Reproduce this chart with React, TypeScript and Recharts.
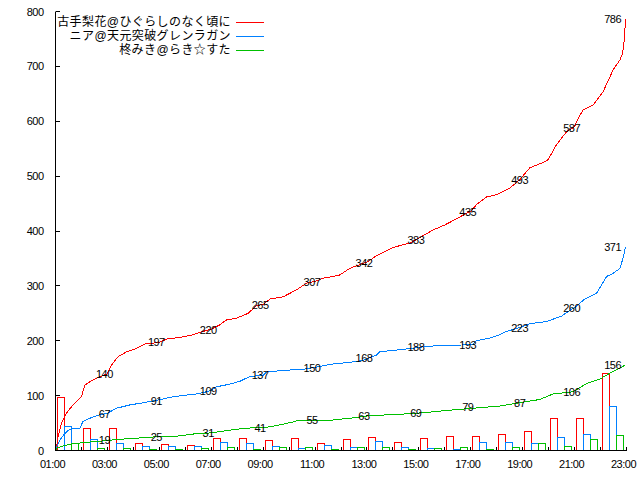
import React from "react";
import { ComposedChart, Bar, Line, Scatter, XAxis, YAxis, Legend } from "recharts";

const NUM_FONT = '"Liberation Sans", sans-serif';
const JP_FONT = '"Liberation Sans", "Noto Sans CJK JP", sans-serif';

const seriesNames = ["古手梨花@ひぐらしのなく頃に", "ニア@天元突破グレンラガン", "柊みき@らき☆すた"];
const seriesColors = ["#ff0000", "#0080ff", "#00c000"];

// hourly bins (centre of each hour 01:00-23:00)
const binCenters = [1.5, 2.5, 3.5, 4.5, 5.5, 6.5, 7.5, 8.5, 9.5, 10.5, 11.5, 12.5, 13.5, 14.5, 15.5, 16.5, 17.5, 18.5, 19.5, 20.5, 21.5, 22.5];
const redCounts = [97, 40, 41, 13, 11, 10, 21, 22, 18, 22, 12, 20, 24, 15, 22, 26, 26, 30, 34, 58, 58, 141];
const blueCounts = [44, 20, 13, 8, 8, 8, 15, 12, 8, 3, 10, 5, 16, 5, 3, 2, 14, 14, 12, 23, 30, 81];
const greenCounts = [13, 3, 3, 1, 1, 4, 6, 1, 6, 6, 2, 5, 5, 2, 3, 5, 2, 5, 12, 8, 20, 27];

// cumulative lines
const redTimes = [1.0, 1.04, 1.1, 1.23, 1.42, 1.62, 1.81, 2.0, 2.13, 2.32, 2.58, 2.9, 3.0, 3.16, 3.41, 3.74, 4.12, 4.44, 5.0, 5.28, 5.79, 6.3, 6.82, 7.0, 7.33, 7.59, 7.97, 8.42, 8.75, 9.0, 9.26, 9.77, 10.29, 10.67, 11.0, 11.31, 11.57, 11.96, 12.34, 12.85, 13.0, 13.37, 14.0, 14.65, 15.04, 15.55, 16.0, 16.32, 16.71, 17.0, 17.22, 17.61, 17.99, 18.5, 18.88, 19.27, 19.79, 19.98, 20.3, 20.69, 21.0, 21.07, 21.33, 21.72, 22.1, 22.49, 22.75, 22.85, 22.9, 22.94, 22.96];
const redTotals = [0, 7, 25, 50, 68, 80, 89, 98, 119, 125, 132, 138, 140, 156, 171, 180, 186, 194, 197, 203, 206, 211, 219, 221, 229, 238, 241, 250, 264, 266, 276, 280, 293, 305, 308, 314, 316, 320, 332, 341, 343, 355, 370, 378, 388, 402, 411, 419, 429, 436, 448, 462, 466, 478, 493, 515, 525, 530, 557, 581, 590, 599, 621, 630, 654, 694, 712, 724, 742, 767, 786];
const blueTimes = [1.0, 1.04, 1.17, 1.36, 1.55, 1.94, 2.06, 2.39, 2.71, 3.0, 3.35, 3.86, 4.38, 4.95, 5.53, 6.05, 6.43, 6.82, 7.0, 7.2, 7.72, 8.1, 8.49, 9.0, 9.13, 9.77, 10.54, 11.06, 11.57, 11.96, 12.21, 12.85, 13.0, 13.37, 13.5, 14.14, 14.91, 15.0, 15.68, 16.58, 17.09, 17.22, 17.74, 18.12, 18.38, 18.89, 19.27, 19.92, 20.5, 20.8, 21.0, 21.39, 21.85, 22.23, 22.49, 22.75, 22.88, 22.96];
const blueTotals = [0, 7, 19, 31, 39, 41, 53, 60, 65, 68, 77, 83, 87, 92, 98, 101, 103, 107, 110, 116, 121, 126, 135, 137, 143, 146, 148, 152, 157, 159, 160, 164, 167, 174, 180, 183, 187, 188, 191, 192, 194, 200, 205, 211, 217, 224, 231, 235, 245, 255, 260, 276, 287, 317, 323, 332, 353, 371];
const greenTimes = [1.0, 1.04, 1.29, 1.68, 2.06, 2.45, 2.96, 3.35, 3.99, 4.89, 5.66, 6.3, 6.95, 7.72, 8.23, 8.49, 9.26, 9.77, 10.16, 10.29, 11.06, 11.57, 11.96, 12.6, 13.0, 13.76, 14.65, 15.42, 16.07, 17.09, 18.12, 18.89, 19.66, 20.17, 20.94, 21.46, 21.97, 22.36, 22.75, 22.96];
const greenTotals = [0, 4, 8, 13, 14, 16, 18, 20, 22, 25, 26, 30, 32, 37, 40, 41, 43, 48, 52, 54, 54, 55, 57, 60, 63, 65, 67, 70, 73, 77, 81, 87, 93, 103, 107, 122, 130, 141, 150, 156];

// value labels every two hours
const labelTimes = [3, 5, 7, 9, 11, 13, 15, 17, 19, 21, 22.58];
const redLabels = [140, 197, 220, 265, 307, 342, 383, 435, 493, 587, 786];
const blueLabels = [67, 91, 109, 137, 150, 168, 188, 193, 223, 260, 371];
const greenLabels = [19, 25, 31, 41, 55, 63, 69, 79, 87, 106, 156];

const hourTicks = [1, 2, 3, 4, 5, 6, 7, 8, 9, 10, 11, 12, 13, 14, 15, 16, 17, 18, 19, 20, 21, 22, 23];
const majorHours = [1, 3, 5, 7, 9, 11, 13, 15, 17, 19, 21, 23];
const yTicks = [0, 100, 200, 300, 400, 500, 600, 700, 800];

const barData = binCenters.map((t, i) => ({ t, red: redCounts[i], blue: blueCounts[i], green: greenCounts[i] }));
const toPoints = (ts: number[], vs: number[]) => ts.map((t, i) => ({ t, v: vs[i] }));

const fmtHour = (h: number) => `${String(h).padStart(2, "0")}:00`;

const numText = { fontSize: 11, fontFamily: NUM_FONT, letterSpacing: -0.5, fill: "#000" };

const BottomTick = (props: any) => {
  const { x, y, payload } = props;
  const h = payload.value;
  return (
    <g>
      <line x1={x} y1={y} x2={x} y2={y - 4} stroke="#000" shapeRendering="crispEdges" />
      {h % 2 === 1 && (
        <text x={x - 3} y={y + 17} textAnchor="middle" {...numText}>
          {fmtHour(h)}
        </text>
      )}
    </g>
  );
};

const TopTick = (props: any) => {
  const { x, y } = props;
  return <line x1={x} y1={y} x2={x} y2={y + 4} stroke="#000" shapeRendering="crispEdges" />;
};

const LeftTick = (props: any) => {
  const { x, y, payload } = props;
  return (
    <g>
      <line x1={x} y1={y} x2={x + 4} y2={y} stroke="#000" shapeRendering="crispEdges" />
      <text x={x - 12} y={y + 4} textAnchor="end" {...numText}>
        {payload.value}
      </text>
    </g>
  );
};

const RightTick = (props: any) => {
  const { x, y } = props;
  return <line x1={x} y1={y} x2={x - 4} y2={y} stroke="#000" shapeRendering="crispEdges" />;
};

const ValueText = (props: any) => {
  const { cx, cy, payload } = props;
  return (
    <text x={cx - 3} y={cy + 4} textAnchor="middle" {...numText}>
      {payload.v}
    </text>
  );
};

const renderLegend = () => (
  <div style={{ fontFamily: JP_FONT, fontSize: 12, color: "#000" }}>
    {seriesNames.map((name, i) => (
      <div key={name} style={{ display: "flex", justifyContent: "flex-end", alignItems: "center", height: 14, lineHeight: "14px" }}>
        <span style={{ letterSpacing: 0.4, whiteSpace: "nowrap" }}>{name}</span>
        <span style={{ display: "inline-block", width: 28, height: 0, borderTop: `1px solid ${seriesColors[i]}`, marginLeft: 5 }} />
      </div>
    ))}
  </div>
);

export default function App() {
  return (
    <div style={{ position: "absolute", left: 0, top: 0, background: "#fff" }}>
      <ComposedChart width={640} height={480} data={barData} barGap={0} margin={{ top: 11.5, right: 13.5, bottom: 0, left: 0 }}>
        <XAxis xAxisId="bar" dataKey="t" type="number" domain={[1, 23]} ticks={hourTicks} interval={0} height={29.5}
          tickSize={0} tickMargin={0} tickLine={false} tick={BottomTick} axisLine={{ stroke: "#000" }} />
        <XAxis xAxisId="top" orientation="top" type="number" domain={[1, 23]} ticks={majorHours} interval={0} height={0}
          tickSize={0} tickMargin={0} tickLine={false} tick={TopTick} axisLine={{ stroke: "#000" }} />
        <XAxis xAxisId="line" dataKey="t" type="number" domain={[1, 23]} hide allowDataOverflow />
        <YAxis type="number" domain={[0, 800]} ticks={yTicks} interval={0} width={55.5}
          tickSize={0} tickMargin={0} tickLine={false} tick={LeftTick} axisLine={{ stroke: "#000" }} allowDataOverflow />
        <YAxis yAxisId="right" orientation="right" type="number" domain={[0, 800]} ticks={yTicks} interval={0} width={0}
          tickSize={0} tickMargin={0} tickLine={false} tick={RightTick} axisLine={{ stroke: "#000" }} />
        <Legend layout="horizontal" verticalAlign="middle" align="center" content={renderLegend}
          wrapperStyle={{ left: 0, top: 15, width: 264, margin: 0 }} />
        <Bar xAxisId="bar" dataKey="red" barSize={7} fill="none" stroke={seriesColors[0]} shapeRendering="crispEdges" isAnimationActive={false} legendType="none" />
        <Bar xAxisId="bar" dataKey="blue" barSize={7} fill="none" stroke={seriesColors[1]} shapeRendering="crispEdges" isAnimationActive={false} legendType="none" />
        <Bar xAxisId="bar" dataKey="green" barSize={7} fill="none" stroke={seriesColors[2]} shapeRendering="crispEdges" isAnimationActive={false} legendType="none" />
        <Line xAxisId="line" data={toPoints(redTimes, redTotals)} dataKey="v" type="linear" stroke={seriesColors[0]} strokeWidth={1} shapeRendering="crispEdges" dot={false} activeDot={false} isAnimationActive={false} name={seriesNames[0]} />
        <Line xAxisId="line" data={toPoints(blueTimes, blueTotals)} dataKey="v" type="linear" stroke={seriesColors[1]} strokeWidth={1} shapeRendering="crispEdges" dot={false} activeDot={false} isAnimationActive={false} name={seriesNames[1]} />
        <Line xAxisId="line" data={toPoints(greenTimes, greenTotals)} dataKey="v" type="linear" stroke={seriesColors[2]} strokeWidth={1} shapeRendering="crispEdges" dot={false} activeDot={false} isAnimationActive={false} name={seriesNames[2]} />
        <Scatter xAxisId="line" data={toPoints(labelTimes, redLabels)} dataKey="v" shape={ValueText} isAnimationActive={false} legendType="none" />
        <Scatter xAxisId="line" data={toPoints(labelTimes, blueLabels)} dataKey="v" shape={ValueText} isAnimationActive={false} legendType="none" />
        <Scatter xAxisId="line" data={toPoints(labelTimes, greenLabels)} dataKey="v" shape={ValueText} isAnimationActive={false} legendType="none" />
      </ComposedChart>
    </div>
  );
}
